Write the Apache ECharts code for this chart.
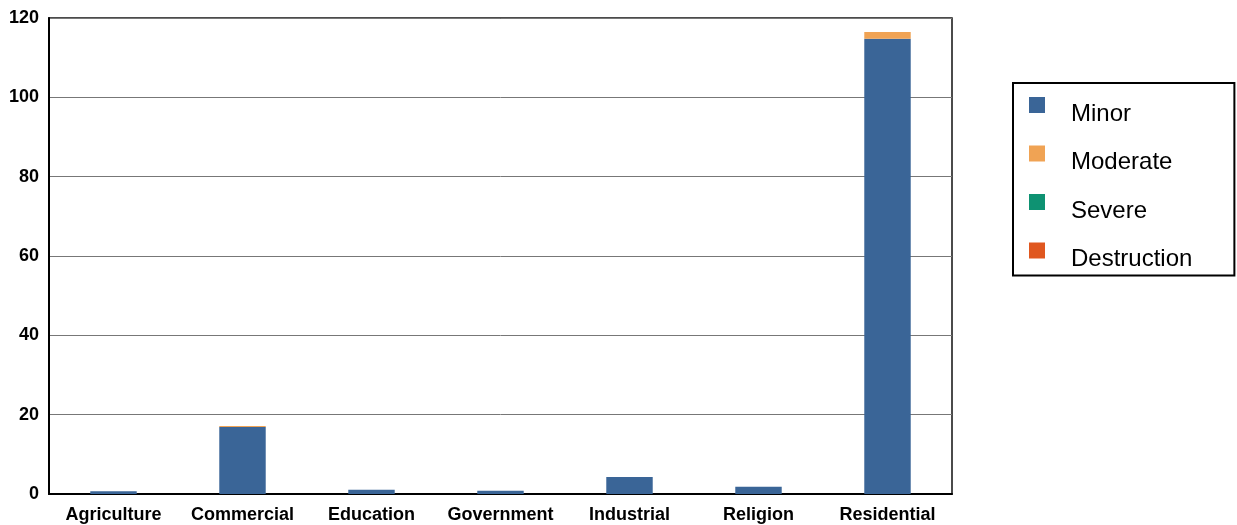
<!DOCTYPE html>
<html><head><meta charset="utf-8">
<script src="https://cdn.jsdelivr.net/npm/echarts@6/dist/echarts.min.js"></script>
<style>html,body{margin:0;padding:0;background:#fff}#c{width:1237px;height:525px}</style>
</head><body><div id="c"></div>
<script>
const categories = ['Agriculture','Commercial','Education','Government','Industrial','Religion','Residential'];
const minor = [0.7, 16.9, 1.1, 0.8, 4.3, 1.8, 114.8];
const moderate = [0, 0.25, 0, 0, 0, 0, 1.7];
const severe = [0, 0, 0, 0, 0, 0, 0];
const destruction = [0, 0, 0, 0, 0, 0, 0];
const seriesNames = ['Minor','Moderate','Severe','Destruction'];
const seriesColors = ['#3a6597','#f0a354','#0e9272','#e0571f'];
const yTicks = [0, 20, 40, 60, 80, 100, 120];

const chart = echarts.init(document.getElementById('c'), null, {renderer:'canvas'});
const font = 'Liberation Sans, Arial, sans-serif';
const dataSets = [minor, moderate, severe, destruction];
chart.setOption({
  animation: false,
  grid: {left: 49, right: 285, top: 18, bottom: 31, show: true, borderColor: '#111', borderWidth: 1.5, containLabel: false},
  legend: {
    orient: 'vertical', left: 1013, top: 83,
    data: seriesNames,
    icon: 'rect', itemWidth: 16, itemHeight: 16, itemGap: 19.5,
    borderColor: '#000', borderWidth: 2, borderRadius: 0,
    padding: [14, 42, 4, 16],
    formatter: '{t|{name}}',
    textStyle: {fontFamily: font, fontSize: 24, color: '#000',
      rich: {t: {fontFamily: font, fontSize: 24, color: '#000', padding: [18, 0, 0, 21]}}}
  },
  xAxis: {
    type: 'category', data: categories,
    axisLine: {lineStyle: {color: '#000', width: 2}},
    axisTick: {show: false},
    axisLabel: {fontFamily: font, fontSize: 18, fontWeight: 'bold', color: '#000', margin: 12, interval: 0}
  },
  yAxis: {
    type: 'value', min: 0, max: 120, interval: 20,
    axisLine: {show: true, lineStyle: {color: '#000', width: 2}},
    axisTick: {show: false},
    splitLine: {lineStyle: {color: '#777', width: 1}},
    axisLabel: {fontFamily: font, fontSize: 18, fontWeight: 'bold', color: '#000', margin: 10,
      formatter: v => yTicks.includes(v) ? String(v) : ''}
  },
  series: seriesNames.map((n, i) => ({
    name: n, type: 'bar', stack: 'total', data: dataSets[i],
    barWidth: '36%', itemStyle: {color: seriesColors[i]}
  }))
});
</script></body></html>
